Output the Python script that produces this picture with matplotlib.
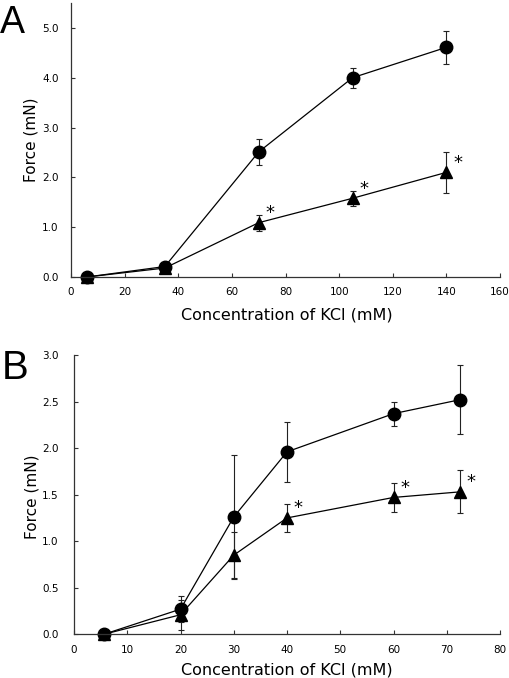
import matplotlib.pyplot as plt

# panel A
a_x = [5.9, 35, 70, 105, 140]
a_circle = [0.0, 0.21, 2.51, 4.00, 4.61]
a_circle_err = [0.0, 0.03, 0.26, 0.20, 0.33]
a_tri = [0.0, 0.18, 1.09, 1.58, 2.10]
a_tri_err = [0.0, 0.03, 0.16, 0.15, 0.41]
a_star = [70, 105, 140]

# panel B
b_x = [5.6, 20, 30, 40, 60, 72.5]
b_circle = [0.0, 0.27, 1.26, 1.96, 2.37, 2.52]
b_circle_err = [0.0, 0.14, 0.67, 0.32, 0.13, 0.37]
b_tri = [0.0, 0.21, 0.85, 1.25, 1.47, 1.53]
b_tri_err = [0.0, 0.16, 0.25, 0.15, 0.16, 0.23]
b_star = [40, 60, 72.5]

a_xticks = list(range(0, 161, 20))
a_yticks = [0.0, 1.0, 2.0, 3.0, 4.0, 5.0]
b_xticks = list(range(0, 81, 10))
b_yticks = [0.0, 0.5, 1.0, 1.5, 2.0, 2.5, 3.0]

plt.rcParams['font.family'] = ['DejaVu Sans']

fig = plt.figure(figsize=(5.1, 6.78), dpi=100)
W, H = 510.0, 678.0


def draw_panel(ax, x, yc, ec, yt, et, stars, xticks, yticks, xlim, ylim, ypad):
    kw = dict(color='black', lw=0.9, ecolor='#222222', elinewidth=0.8,
              capsize=2.5, capthick=0.8, clip_on=False)
    ax.errorbar(x, yt, yerr=et, marker='^', ms=9, mfc='black', mec='black', **kw)
    ax.errorbar(x, yc, yerr=ec, marker='o', ms=9, mfc='black', mec='black', **kw)
    for sx in stars:
        i = x.index(sx)
        ax.annotate('*', (x[i], yt[i]), xytext=(8, 7), textcoords='offset points',
                    fontsize=13, ha='center', va='center')
    ax.set_xlim(*xlim)
    ax.set_ylim(*ylim)
    ax.set_xticks(xticks)
    ax.set_yticks(yticks)
    ax.set_xticklabels([str(t) for t in xticks])
    ax.set_yticklabels(['%.1f' % t for t in yticks])
    for s in ['top', 'right']:
        ax.spines[s].set_visible(False)
    for s in ['left', 'bottom']:
        ax.spines[s].set_color('#333333')
        ax.spines[s].set_linewidth(0.9)
    ax.tick_params(axis='both', direction='in', length=3, width=0.8,
                   color='#333333', labelsize=7.5)
    ax.tick_params(axis='x', pad=7.5)
    ax.tick_params(axis='y', pad=ypad)
    ax.set_xlabel('Concentration of KCl (mM)', fontsize=11.5, va='center')
    ax.set_ylabel('Force (mN)', fontsize=11, va='center')


axA = fig.add_axes([71 / W, 1 - 277 / H, 429 / W, 274 / H])
draw_panel(axA, a_x, a_circle, a_circle_err, a_tri, a_tri_err, a_star,
           a_xticks, a_yticks, (0, 160), (0, 5.5), 9)
axA.xaxis.set_label_coords(0.503, -0.139)
axA.yaxis.set_label_coords(-0.093, 0.5)

axB = fig.add_axes([74 / W, 1 - 634.3 / H, 426 / W, 279.3 / H])
draw_panel(axB, b_x, b_circle, b_circle_err, b_tri, b_tri_err, b_star,
           b_xticks, b_yticks, (0, 80), (0, 3.0), 11)
axB.xaxis.set_label_coords(0.5, -0.128)
axB.yaxis.set_label_coords(-0.098, 0.493)

fig.text(0.0, 1 - 33 / H, 'A', fontsize=27, family='Liberation Sans', va='baseline')
fig.text(0.004, 1 - 379 / H, 'B', fontsize=29, family='Liberation Sans', va='baseline')

fig.savefig('out.png', dpi=100)
